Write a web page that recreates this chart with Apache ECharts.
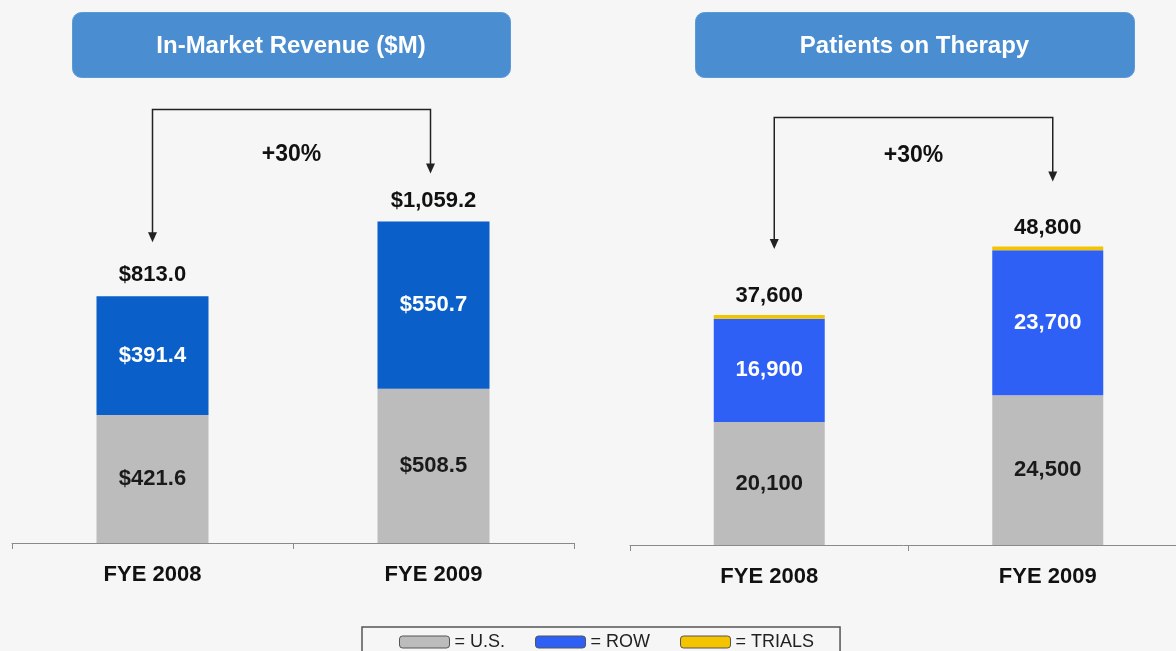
<!DOCTYPE html>
<html>
<head>
<meta charset="utf-8">
<title>In-Market Revenue and Patients on Therapy</title>
<script src="https://cdn.jsdelivr.net/npm/echarts@6/dist/echarts.min.js"></script>
<style>
    html, body { margin: 0; padding: 0; background: #f6f6f6; }
    .chart { width: 1176px; height: 651px; }
</style>
</head>
<body>
<div class="chart"></div>
<script>
// data
var years = ['FYE 2008', 'FYE 2009'];
var revenueUS = [421.6, 508.5];
var revenueROW = [391.4, 550.7];
var revenueTotal = [813.0, 1059.2];
var patientsUS = [20100, 24500];
var patientsROW = [16900, 23700];
var patientsTrials = [600, 600];
var patientsTotal = [37600, 48800];
var panelTitles = ['In-Market Revenue ($M)', 'Patients on Therapy'];
var growthLabels = ['+30%', '+30%'];

var FONT = '"Liberation Sans", Arial, sans-serif';
var GRAY = '#bcbcbc', BLUE_DARK = '#0a5fc8', BLUE = '#2f60f5', YELLOW = '#f5c400';

function money(v) {
    return '$' + v.toFixed(1).replace(/\B(?=(\d{3})+(?!\d))/g, ',');
}
function count(v) {
    return String(v).replace(/\B(?=(\d{3})+(?!\d))/g, ',');
}

var myChart = echarts.init(document.querySelector('.chart'));

var labelBase = { show: true, fontFamily: FONT, fontSize: 22, fontWeight: 'bold' };

function xAx(grid) {
    return {
        type: 'category', gridIndex: grid, data: years,
        axisLine: { lineStyle: { color: '#8a8a8a', width: 1 } },
        axisTick: { show: true, length: 6, lineStyle: { color: '#8a8a8a' } },
        axisLabel: { margin: 21, color: '#111', fontFamily: FONT, fontSize: 22, fontWeight: 'bold' }
    };
}
function yAx(grid, max) {
    return { type: 'value', gridIndex: grid, min: 0, max: max, show: false, splitLine: { show: false } };
}

var option = {
    backgroundColor: '#f6f6f6',
    animation: false,
    grid: [
        { left: 12, width: 562, top: 118, bottom: 108, outerBoundsMode: 'none', containLabel: false },
        { left: 630, width: 557, top: 117, bottom: 106, outerBoundsMode: 'none', containLabel: false }
    ],
    xAxis: [xAx(0), xAx(1)],
    yAxis: [yAx(0, 1400), yAx(1, 70000)],
    legend: {
        data: [
            { name: 'U.S.', itemStyle: { color: GRAY, borderColor: '#555', borderWidth: 1 } },
            { name: 'ROW', itemStyle: { color: BLUE, borderColor: '#555', borderWidth: 1 } },
            { name: 'TRIALS', itemStyle: { color: YELLOW, borderColor: '#555', borderWidth: 1 } }
        ],
        left: 362, top: 627,
        icon: 'roundRect',
        itemWidth: 50, itemHeight: 12, itemGap: 30,
        formatter: function (n) { return '= ' + n; },
        textStyle: { fontFamily: FONT, fontSize: 18, color: '#222' },
        borderColor: '#555', borderWidth: 1.5,
        padding: [6, 26, 20, 37],
        selectedMode: false
    },
    series: [
        {
            name: 'U.S.', type: 'bar', stack: 'rev', xAxisIndex: 0, yAxisIndex: 0, barWidth: 112,
            data: revenueUS, itemStyle: { color: GRAY },
            label: Object.assign({}, labelBase, { position: 'inside', color: '#1a1a1a', formatter: function (p) { return money(p.value); } })
        },
        {
            name: 'ROW', type: 'bar', stack: 'rev', xAxisIndex: 0, yAxisIndex: 0, barWidth: 112,
            data: revenueROW, itemStyle: { color: BLUE_DARK },
            label: Object.assign({}, labelBase, { position: 'inside', color: '#fff', formatter: function (p) { return money(p.value); } })
        },
        {
            name: 'revTotal', type: 'bar', stack: 'rev', xAxisIndex: 0, yAxisIndex: 0, barWidth: 112,
            data: [0, 0], itemStyle: { color: 'transparent' },
            label: Object.assign({}, labelBase, { position: 'top', distance: 10, color: '#111', formatter: function (p) { return money(revenueTotal[p.dataIndex]); } })
        },
        {
            name: 'U.S.', type: 'bar', stack: 'pat', xAxisIndex: 1, yAxisIndex: 1, barWidth: 111,
            data: patientsUS, itemStyle: { color: GRAY },
            label: Object.assign({}, labelBase, { position: 'inside', color: '#1a1a1a', formatter: function (p) { return count(p.value); } })
        },
        {
            name: 'ROW', type: 'bar', stack: 'pat', xAxisIndex: 1, yAxisIndex: 1, barWidth: 111,
            data: patientsROW, itemStyle: { color: BLUE },
            label: Object.assign({}, labelBase, { position: 'inside', color: '#fff', formatter: function (p) { return count(p.value); } })
        },
        {
            name: 'TRIALS', type: 'bar', stack: 'pat', xAxisIndex: 1, yAxisIndex: 1, barWidth: 111,
            data: patientsTrials, itemStyle: { color: YELLOW },
            label: Object.assign({}, labelBase, { position: 'top', distance: 8, color: '#111', formatter: function (p) { return count(patientsTotal[p.dataIndex]); } })
        }
    ]
};

myChart.setOption(option);

// 标题框和增长箭头
var panels = [
    { grid: 0, totals: revenueTotal, boxX: 72, boxW: 438, gaps: [54, 48], dx: [0, -3], rise: 112, textDy: 45 },
    { grid: 1, totals: patientsTotal, boxX: 695, boxW: 439, gaps: [66, 65], dx: [5, 5], rise: 129, textDy: 38 }
];
var graphics = [];
panels.forEach(function (pn, i) {
    graphics.push({
        type: 'rect', left: pn.boxX, top: 12,
        shape: { width: pn.boxW, height: 65, r: 9 },
        style: { fill: '#4a8dd0', stroke: '#5c9ad6', lineWidth: 1 }
    });
    graphics.push({
        type: 'text', x: pn.boxX + pn.boxW / 2, y: 46,
        style: { text: panelTitles[i], fill: '#fff', font: 'bold 24px ' + FONT, align: 'center', verticalAlign: 'middle' }
    });
    var a = myChart.convertToPixel({ gridIndex: pn.grid }, [years[0], pn.totals[0]]);
    var b = myChart.convertToPixel({ gridIndex: pn.grid }, [years[1], pn.totals[1]]);
    var xa = a[0] + pn.dx[0], xb = b[0] + pn.dx[1];
    var topY = Math.min(a[1], b[1]) - pn.rise;
    var tipA = a[1] - pn.gaps[0], tipB = b[1] - pn.gaps[1];
    graphics.push({
        type: 'polyline',
        shape: { points: [[xa, tipA - 9], [xa, topY], [xb, topY], [xb, tipB - 9]] },
        style: { stroke: '#222', lineWidth: 1.5, fill: null }
    });
    [[xa, tipA], [xb, tipB]].forEach(function (t) {
        graphics.push({
            type: 'polygon',
            shape: { points: [[t[0] - 4.5, t[1] - 10], [t[0] + 4.5, t[1] - 10], [t[0], t[1]]] },
            style: { fill: '#222' }
        });
    });
    graphics.push({
        type: 'text', x: (xa + xb) / 2, y: topY + pn.textDy,
        style: { text: growthLabels[i], fill: '#111', font: 'bold 23px ' + FONT, align: 'center', verticalAlign: 'middle' }
    });
});
myChart.setOption({ graphic: graphics });
</script>
</body>
</html>
